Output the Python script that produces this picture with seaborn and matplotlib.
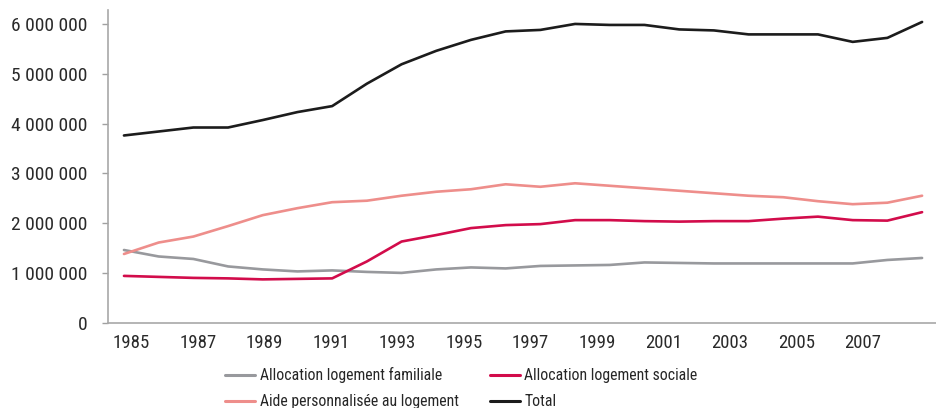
import pandas as pd
import matplotlib
matplotlib.use("Agg")
import matplotlib.pyplot as plt
import matplotlib.ticker as mticker
from matplotlib import font_manager
import seaborn as sns

# Données (nombre de bénéficiaires, en millions)
annees = list(range(1985, 2009))
alf = [1.46, 1.33, 1.28, 1.13, 1.07, 1.03, 1.05, 1.02, 1.00, 1.07, 1.11, 1.09,
       1.14, 1.15, 1.16, 1.21, 1.20, 1.19, 1.19, 1.19, 1.19, 1.19, 1.26, 1.30]
als = [0.94, 0.92, 0.90, 0.89, 0.87, 0.88, 0.89, 1.23, 1.63, 1.76, 1.90, 1.96,
       1.98, 2.06, 2.06, 2.04, 2.03, 2.04, 2.04, 2.09, 2.13, 2.06, 2.05, 2.22]
apl = [1.38, 1.61, 1.73, 1.94, 2.16, 2.30, 2.42, 2.45, 2.55, 2.63, 2.68, 2.78,
       2.73, 2.80, 2.75, 2.70, 2.65, 2.60, 2.55, 2.52, 2.44, 2.38, 2.41, 2.55]
total = [3.76, 3.84, 3.92, 3.92, 4.07, 4.23, 4.35, 4.80, 5.19, 5.46, 5.68, 5.85,
         5.88, 6.00, 5.98, 5.98, 5.89, 5.87, 5.79, 5.79, 5.79, 5.64, 5.72, 6.04]
etiquettes = list(range(1985, 2008, 2))

series = {
    "Allocation logement familiale": alf,
    "Aide personnalisée au logement": apl,
    "Allocation logement sociale": als,
    "Total": total,
}
couleurs = {
    "Allocation logement familiale": "#98999d",
    "Aide personnalisée au logement": "#ee8e8b",
    "Allocation logement sociale": "#d20c4b",
    "Total": "#1c1c1c",
}

rows = []
for nom, vals in series.items():
    for a, v in zip(annees, vals):
        rows.append({"annee": a, "valeur": v * 1e6, "serie": nom})
df = pd.DataFrame(rows)

sns.set_style("white")
noms = {f.name for f in font_manager.fontManager.ttflist}
etroite = [n for n in ["Roboto Condensed", "Liberation Sans Narrow"] if n in noms]
condense = bool(etroite)
plt.rcParams["font.family"] = etroite + ["Liberation Sans", "DejaVu Sans"]

fig = plt.figure(figsize=(9.37, 4.08), dpi=100)
ax = fig.add_axes([108 / 937, (408 - 322.7) / 408, (937 - 108) / 937, (322.7 - 10) / 408])

sns.lineplot(data=df, x="annee", y="valeur", hue="serie", palette=couleurs,
             hue_order=list(series.keys()), linewidth=1.9, ax=ax, legend=False)

ax.set_xlim(1984.54, 2008.43)
ax.set_ylim(0, 6.28e6)
ax.set_xlabel("")
ax.set_ylabel("")

# les libellés de l'axe x sont un peu plus serrés que les points
pos = [1985.22 + (e - 1985) * 0.958 for e in etiquettes]
ax.set_xticks(pos)
ax.set_xticklabels([str(e) for e in etiquettes])
ax.set_yticks([i * 1e6 for i in range(7)])
ax.yaxis.set_major_formatter(mticker.FuncFormatter(lambda v, p: f"{v:,.0f}".replace(",", " ")))

taille_ticks = 13.5 if condense else 12.3
taille_leg = 11.3 if condense else 10.3
ax.tick_params(axis="x", length=0, pad=8, labelsize=taille_ticks, colors="#2a2a2a")
ax.tick_params(axis="y", length=4.5, width=1, color="#a0a0a0", pad=10,
               labelsize=taille_ticks + 0.5, labelcolor="#2a2a2a", left=True)

for s in ["top", "right"]:
    ax.spines[s].set_visible(False)
for s in ["left", "bottom"]:
    ax.spines[s].set_color("#a8a8a8")
    ax.spines[s].set_linewidth(1.2)

handles = [plt.Line2D([], [], color=couleurs[n], lw=2.2) for n in series]
fig.legend(handles, list(series.keys()), ncol=2, loc="upper left",
           bbox_to_anchor=(225 / 937, 1 - 367 / 408), frameon=False,
           fontsize=taille_leg, handlelength=1.9, handletextpad=0.3,
           columnspacing=2.0, labelspacing=0.7, borderpad=0, borderaxespad=0)

fig.savefig("out.png", dpi=100)
